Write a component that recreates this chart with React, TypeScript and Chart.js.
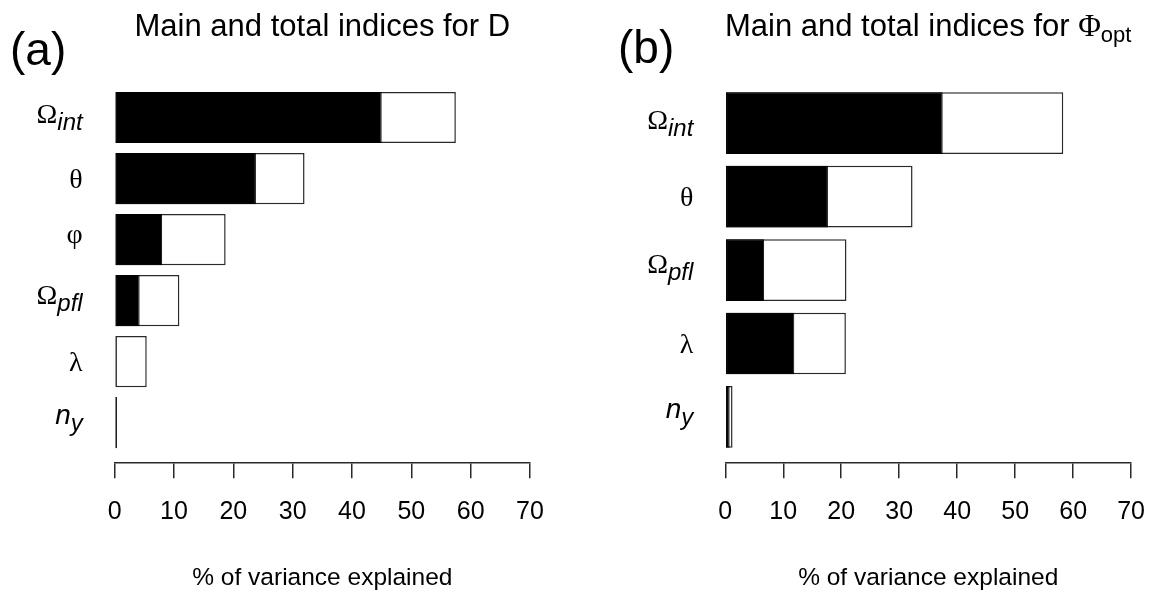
import React, { useEffect, useRef } from 'react';
import { Chart, registerables } from 'chart.js';
Chart.register(...registerables);

// ---------- data ----------
const xTicks = [0, 10, 20, 30, 40, 50, 60, 70];

const categoriesA = ['Ω_int', 'θ', 'φ', 'Ω_pfl', 'λ', 'n_y'];
const mainA = [45.0, 23.8, 8.0, 4.2, 0.2, 0.3];
const totalA = [57.5, 32.0, 18.7, 10.9, 5.4, 0.4];

const categoriesB = ['Ω_int', 'θ', 'Ω_pfl', 'λ', 'n_y'];
const mainB = [37.5, 17.7, 6.7, 11.9, 0.75];
const totalB = [58.3, 32.3, 20.9, 20.8, 1.25];

const titleA = 'Main and total indices for D';
const titleB = 'Main and total indices for Φ_opt';
const axisTitle = '% of variance explained';

// ---------- styling ----------
const SANS = '"Liberation Sans", Arial, Helvetica, sans-serif';
const SERIF = '"Liberation Serif", "Times New Roman", serif';
const W = 582;
const H = 592;
const AXIS_Y = 462.3;

type Part = { text: string; font: string; dy: number };

const isGreek = (s: string) => /[\u0370-\u03FF]/.test(s);

function parseLabel(
  label: string,
  size: number,
  subSize: number,
  latinItalic: boolean,
  subItalic: boolean,
  subShift: number
): Part[] {
  const idx = label.indexOf('_');
  const base = idx >= 0 ? label.slice(0, idx) : label;
  const sub = idx >= 0 ? label.slice(idx + 1) : '';
  const parts: Part[] = [];
  let run = '';
  let runGreek: boolean | null = null;
  const flush = () => {
    if (!run) return;
    parts.push({
      text: run,
      font: runGreek
        ? `${size}px ${SERIF}`
        : `${latinItalic ? 'italic ' : ''}${size}px ${SANS}`,
      dy: 0,
    });
    run = '';
  };
  for (const ch of base) {
    const g = isGreek(ch);
    if (runGreek !== null && g !== runGreek) flush();
    runGreek = g;
    run += ch;
  }
  flush();
  if (sub) {
    parts.push({
      text: sub,
      font: `${subItalic ? 'italic ' : ''}${subSize}px ${SANS}`,
      dy: subShift,
    });
  }
  return parts;
}

function drawRich(
  ctx: CanvasRenderingContext2D,
  parts: Part[],
  x: number,
  y: number,
  align: 'left' | 'center' | 'right',
  vmode: 'center' | 'baseline'
) {
  let width = 0;
  let top = Infinity;
  let bottom = -Infinity;
  const widths: number[] = [];
  for (const p of parts) {
    ctx.font = p.font;
    const m = ctx.measureText(p.text);
    widths.push(m.width);
    width += m.width;
    top = Math.min(top, p.dy - m.actualBoundingBoxAscent);
    bottom = Math.max(bottom, p.dy + m.actualBoundingBoxDescent);
  }
  const baseline = vmode === 'center' ? y - (top + bottom) / 2 : y;
  let cx = align === 'right' ? x - width : align === 'center' ? x - width / 2 : x;
  ctx.textAlign = 'left';
  ctx.textBaseline = 'alphabetic';
  parts.forEach((p, i) => {
    ctx.font = p.font;
    ctx.fillText(p.text, cx, baseline + p.dy);
    cx += widths[i];
  });
}

type Spec = {
  letter: string;
  letterX: number;
  letterY: number;
  title: string;
  categories: string[];
  main: number[];
  total: number[];
  padLeft: number;
  padRight: number;
  padTop: number;
  yMax: number;
};

const specA: Spec = {
  letter: '(a)',
  letterX: 10,
  letterY: 65,
  title: titleA,
  categories: categoriesA,
  main: mainA,
  total: totalA,
  padLeft: 114.7,
  padRight: W - 530,
  padTop: 87,
  yMax: 5.652,
};

const specB: Spec = {
  letter: '(b)',
  letterX: 618 - W,
  letterY: 63,
  title: titleB,
  categories: categoriesB,
  main: mainB,
  total: totalB,
  padLeft: 725.3 - W,
  padRight: W - (1140.7 - W),
  padTop: 86.35,
  yMax: 4.617,
};

function makeDecor(spec: Spec) {
  return {
    id: 'decor',
    afterDraw(chart: any) {
      const { ctx, chartArea, scales } = chart;
      ctx.save();
      ctx.fillStyle = '#000';
      spec.categories.forEach((c, i) => {
        const y = scales.y.getPixelForValue(i);
        drawRich(ctx, parseLabel(c, 28, 24, true, true, 7), chartArea.left - 32, y, 'right', 'center');
      });
      drawRich(
        ctx,
        parseLabel(spec.title, 31, 22, false, false, 6),
        (chartArea.left + chartArea.right) / 2,
        36,
        'center',
        'baseline'
      );
      ctx.font = `46px ${SANS}`;
      ctx.textAlign = 'left';
      ctx.textBaseline = 'alphabetic';
      ctx.fillText(spec.letter, spec.letterX, spec.letterY);
      ctx.restore();
    },
  };
}

function Panel({ spec, left }: { spec: Spec; left: number }) {
  const ref = useRef<HTMLCanvasElement>(null);
  useEffect(() => {
    if (!ref.current) return;
    const chart = new Chart(ref.current, {
      type: 'bar',
      data: {
        datasets: [
          {
            label: 'Main index',
            data: spec.main.map((v, i) => ({ x: v, y: i })),
            backgroundColor: '#000',
            borderColor: '#000',
            borderWidth: 1,
            borderSkipped: false,
            barPercentage: 0.84,
            categoryPercentage: 1,
            grouped: false,
          },
          {
            label: 'Total index',
            data: spec.total.map((v, i) => ({ x: v, y: i })),
            backgroundColor: '#fff',
            borderColor: '#2a2a2a',
            borderWidth: 1.5,
            borderSkipped: false,
            barPercentage: 0.84,
            categoryPercentage: 1,
            grouped: false,
          },
        ] as any,
      },
      options: {
        indexAxis: 'y',
        animation: false,
        responsive: false,
        events: [],
        layout: {
          padding: { left: spec.padLeft, right: spec.padRight, top: spec.padTop, bottom: 0 },
        },
        plugins: {
          legend: { display: false },
          tooltip: { enabled: false },
          title: { display: false },
        },
        scales: {
          y: {
            type: 'linear',
            display: false,
            reverse: true,
            offset: false,
            min: -0.5,
            max: spec.yMax,
            afterBuildTicks: (s: any) => {
              s.ticks = spec.categories.map((_, i) => ({ value: i }));
            },
          },
          x: {
            type: 'linear',
            min: 0,
            max: 70,
            offset: false,
            afterBuildTicks: (s: any) => {
              s.ticks = xTicks.map((v) => ({ value: v }));
            },
            afterFit: (s: any) => {
              s.height = H - AXIS_Y;
            },
            ticks: {
              color: '#000',
              font: { family: SANS, size: 25 },
              padding: 19,
              maxRotation: 0,
              autoSkip: false,
            },
            grid: {
              display: true,
              drawOnChartArea: false,
              drawTicks: true,
              tickLength: 16,
              color: '#2a2a2a',
              lineWidth: 1.5,
            },
            border: { display: true, color: '#2a2a2a', width: 1.5 },
            title: {
              display: true,
              text: axisTitle,
              color: '#000',
              font: { family: SANS, size: 24.5 },
              padding: { top: 0, bottom: -1 },
            },
          },
        },
      } as any,
      plugins: [makeDecor(spec)],
    });
    return () => chart.destroy();
  }, [spec]);
  return (
    <div style={{ position: 'absolute', left, top: 0, width: W, height: H }}>
      <canvas ref={ref} width={W} height={H} style={{ width: W, height: H, display: 'block' }} />
    </div>
  );
}

export default function App() {
  return (
    <div style={{ position: 'absolute', left: 0, top: 0, width: 1164, height: 592, background: '#fff' }}>
      <Panel spec={specA} left={0} />
      <Panel spec={specB} left={W} />
    </div>
  );
}
